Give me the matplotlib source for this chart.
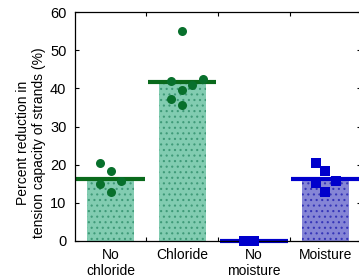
import matplotlib
matplotlib.use('Agg')
import matplotlib.pyplot as plt
import numpy as np

plt.rcParams['font.family'] = ['Liberation Sans', 'DejaVu Sans']
plt.rcParams['font.size'] = 10
plt.rcParams['hatch.linewidth'] = 0.8

# Data
categories = ["No\nchloride", "Chloride", "No\nmoisture", "Moisture"]
mean_values = [16.3, 41.8, 0.0, 16.3]

no_chloride_pts = [20.4, 18.3, 14.8, 15.7, 12.9]
chloride_pts = [55.0, 42.0, 42.5, 40.8, 39.5, 37.3, 35.6]
no_moisture_pts = [0.0, 0.0]
moisture_pts = [20.4, 18.3, 15.1, 15.7, 12.9]

# horizontal jitter of the individual specimens (layout only)
no_chloride_dx = [-0.15, 0.0, -0.15, 0.14, 0.0]
chloride_dx = [0.0, -0.15, 0.29, 0.14, 0.0, -0.15, 0.0]
no_moisture_dx = [-0.14, 0.0]
moisture_dx = [-0.13, 0.0, -0.13, 0.15, 0.0]

# Styles
green_bar = '#82ccb1'
green_dot = '#3f9a78'
green_pt = '#08702c'
green_line = '#0a6a1c'
blue_bar = '#8585d6'
blue_dot = '#3535b8'
blue_pt = '#0000cc'
blue_line = '#0000cc'

fig = plt.figure(figsize=(3.59, 2.80), dpi=100)
ax = fig.add_axes([74.7 / 359, 1 - 240.7 / 280, 286.5 / 359, 228.4 / 280])

x = np.arange(1, len(categories) + 1)
bar_colors = [green_bar, green_bar, blue_bar, blue_bar]
dot_colors = [green_dot, green_dot, blue_dot, blue_dot]
line_colors = [green_line, green_line, blue_line, blue_line]

for xi, h, fc, hc in zip(x, mean_values, bar_colors, dot_colors):
    ax.bar(xi, h, width=0.66, color=fc, edgecolor=hc, linewidth=0,
           hatch='...', zorder=1)

for xi, m, lc in zip(x, mean_values, line_colors):
    ax.hlines(m, xi - 0.475, xi + 0.475, colors=lc, linewidth=3, zorder=2,
              clip_on=False)

groups = [
    (no_chloride_pts, no_chloride_dx, 'o', green_pt, 6.5),
    (chloride_pts, chloride_dx, 'o', green_pt, 6.5),
    (no_moisture_pts, no_moisture_dx, 's', blue_pt, 7),
    (moisture_pts, moisture_dx, 's', blue_pt, 7),
]
for xi, (pts, dx, mk, col, ms) in zip(x, groups):
    ax.plot(xi + np.array(dx), pts, linestyle='none', marker=mk,
            color=col, markersize=ms, markeredgewidth=0, zorder=3,
            clip_on=False)

ax.set_xlim(0.5, 4.5)
ax.set_ylim(0, 60)
ax.set_xticks(x)
ax.set_xticklabels(categories)
ax.set_xticks([1.5, 2.5, 3.5], minor=True)
ax.set_yticks([0, 10, 20, 30, 40, 50, 60])

ax.tick_params(axis='x', which='major', length=0, pad=5, labelsize=10)
ax.tick_params(axis='x', which='minor', direction='in', length=3,
               top=True, bottom=True, width=0.8)
ax.tick_params(axis='y', direction='in', length=3, width=0.8,
               left=True, right=True, pad=6, labelsize=10.5)

for s in ax.spines.values():
    s.set_linewidth(0.9)

ax.set_ylabel("Percent reduction in\ntension capacity of strands (%)",
              fontsize=10, linespacing=1.15)
ax.yaxis.set_label_coords(-0.10, 0.43)

fig.savefig("out.png", dpi=100)
